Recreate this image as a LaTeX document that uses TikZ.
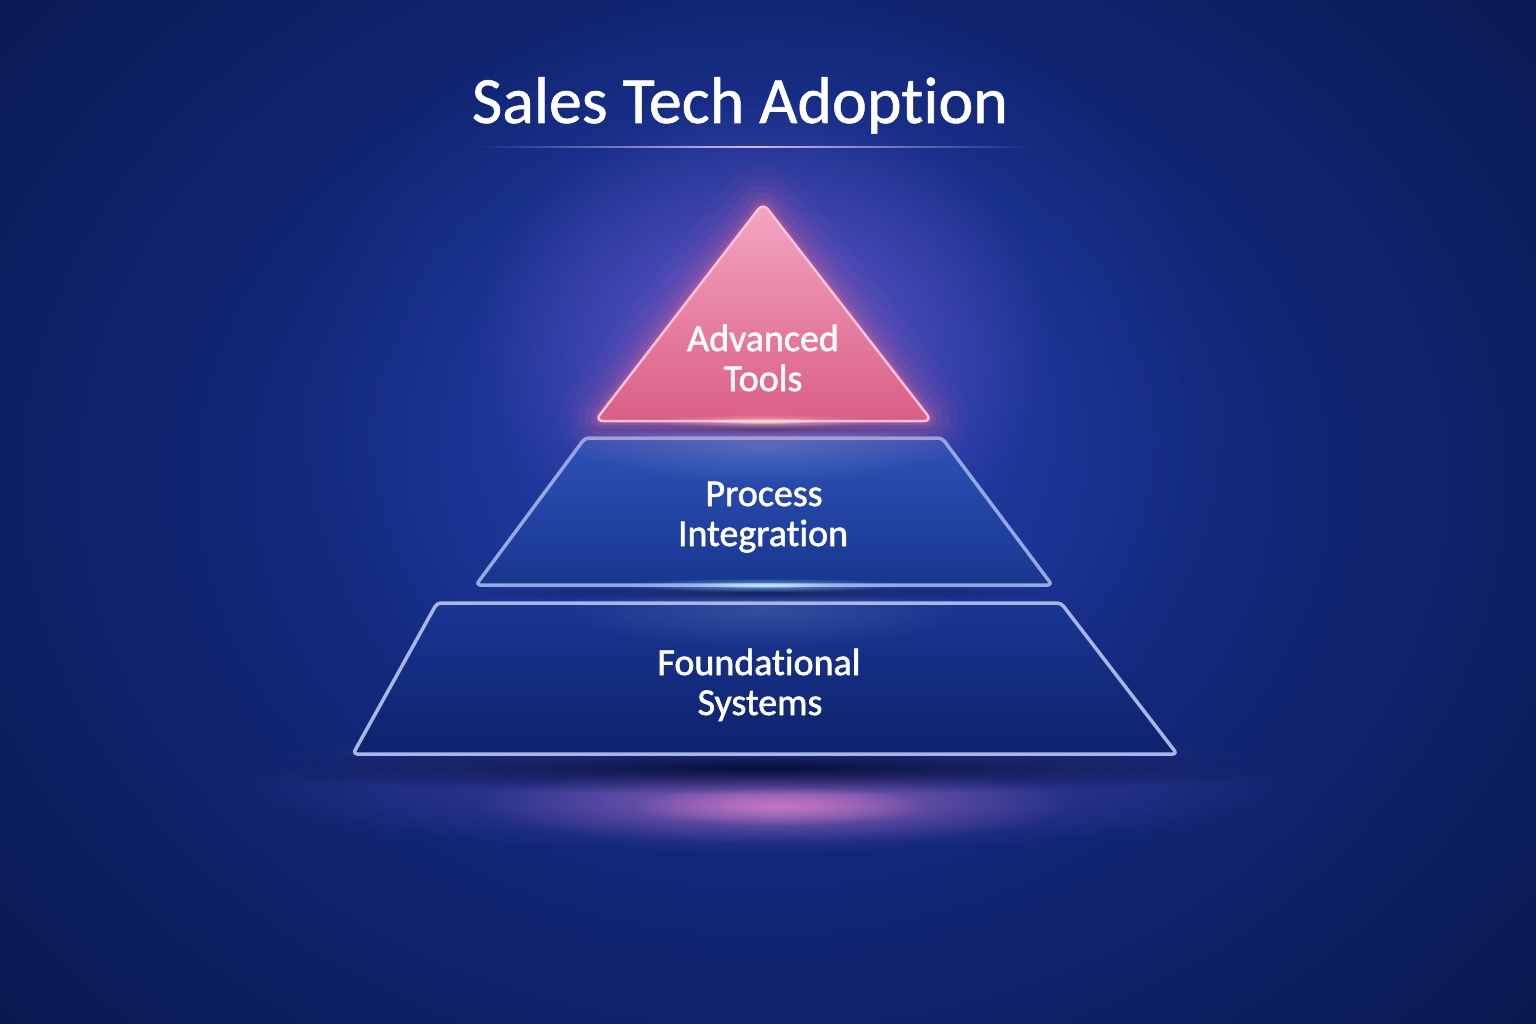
\documentclass[tikz,border=0pt]{standalone}
\usepackage{fontspec}
\setmainfont{Carlito}[Ligatures={NoCommon,NoRare}]
\newfontfamily\labelfont{Carlito}[Ligatures={NoCommon,NoRare},FakeBold=1.6]
\newfontfamily\titlefont{Carlito}[Ligatures={NoCommon,NoRare},FakeBold=0.9]
\usetikzlibrary{fadings}
\definecolor{bgdark}{HTML}{071340}
\definecolor{bgmid}{HTML}{18349C}
\definecolor{bgcore}{HTML}{2C44B0}
\definecolor{glowpurple}{HTML}{6E58CC}
\definecolor{glowpink}{HTML}{F06A9C}
\definecolor{tritop}{HTML}{F4A6C2}
\definecolor{tribot}{HTML}{DA5E86}
\definecolor{triedge}{HTML}{F9C2D6}
\definecolor{midtop}{HTML}{2D52B6}
\definecolor{midbot}{HTML}{193690}
\definecolor{midedge}{HTML}{94A8E2}
\definecolor{bottop}{HTML}{1A3693}
\definecolor{botbot}{HTML}{0E226C}
\definecolor{botedge}{HTML}{A8B7E6}
\definecolor{rulecol}{HTML}{C9BEEA}
\definecolor{shadowcol}{HTML}{040C34}
\definecolor{floorpink}{HTML}{D47CC6}
\definecolor{floorblue}{HTML}{6452BE}
\tikzfading[name=softfade, inner color=transparent!0, outer color=transparent!100]
\tikzfading[name=hfade, left color=transparent!100, right color=transparent!100, middle color=transparent!0]
\tikzset{
  titletext/.style={text=white, font=\titlefont\fontsize{66}{70}\selectfont, anchor=base},
  label/.style={text=white, font=\labelfont\fontsize{38}{40}\selectfont, anchor=base},
  trilabel/.style={label, text=white!94!pink},
  glowline/.style={draw=glowpink, line join=round, rounded corners=8pt},
}
\begin{document}
\begin{tikzpicture}[x=1pt,y=-1pt]
\useasboundingbox (0,0) rectangle (1536,1024);
\begin{scope}
\clip (0,0) rectangle (1536,1024);
% background
\fill[bgdark] (0,0) rectangle (1536,1024);
\shade[inner color=bgmid, outer color=bgdark] (763,480) ellipse (1250pt and 1000pt);
\fill[bgcore, path fading=softfade, opacity=0.85] (763,420) ellipse (480pt and 440pt);
% glow behind triangle
\fill[glowpurple, path fading=softfade, opacity=0.85] (763,340) ellipse (290pt and 240pt);
% floor glow
\fill[floorblue, path fading=softfade, opacity=0.6] (765,785) ellipse (540pt and 70pt);
\fill[floorpink, path fading=softfade, opacity=0.55] (775,805) ellipse (300pt and 40pt);
\fill[floorpink, path fading=softfade, opacity=0.8] (780,806) ellipse (150pt and 20pt);
% shadow below base
\fill[shadowcol, path fading=softfade, opacity=0.95] (765,768) ellipse (520pt and 26pt);
\end{scope}

% title
\node[titletext] (title) at (740,123) {Sales Tech Adoption};
\fill[rulecol, path fading=hfade] (475,146) rectangle (1030,148.5);

% bottom tier
\coordinate (b1) at (437,603);
\coordinate (b2) at (1061,603);
\coordinate (b3) at (1177,754);
\coordinate (b4) at (353,754);
\shade[top color=bottop, bottom color=botbot, rounded corners=4pt] (b1) -- (b2) -- (b3) -- (b4) -- cycle;
\fill[white, path fading=softfade, opacity=0.12] (763,610) ellipse (200pt and 40pt);
\draw[botedge, line width=3.5pt, rounded corners=4pt, line join=round] (b1) -- (b2) -- (b3) -- (b4) -- cycle;

% middle tier
\coordinate (m1) at (585,438);
\coordinate (m2) at (942,438);
\coordinate (m3) at (1052,585);
\coordinate (m4) at (476,585);
\fill[shadowcol, path fading=softfade, opacity=0.6] (763,593) ellipse (300pt and 9pt);
\shade[top color=midtop, bottom color=midbot, rounded corners=4pt] (m1) -- (m2) -- (m3) -- (m4) -- cycle;
\fill[white, path fading=softfade, opacity=0.15] (763,445) ellipse (180pt and 40pt);
\draw[midedge, line width=3.5pt, rounded corners=4pt, line join=round] (m1) -- (m2) -- (m3) -- (m4) -- cycle;
\fill[white, path fading=softfade, opacity=0.9] (763,585) ellipse (70pt and 3pt);
\fill[cyan!40!white, path fading=softfade, opacity=0.6] (763,585) ellipse (140pt and 7pt);

% top triangle
\coordinate (t1) at (763,203);
\coordinate (t2) at (932,421);
\coordinate (t3) at (595,421);
\fill[shadowcol, path fading=softfade, opacity=0.55] (763,428) ellipse (190pt and 8pt);
\foreach \w/\o in {80/0.04, 60/0.05, 42/0.07, 28/0.09, 16/0.13, 8/0.2}
  \draw[glowline, line width=\w pt, opacity=\o] (t1) -- (t2) -- (t3) -- cycle;
\shade[top color=tritop, bottom color=tribot, rounded corners=8pt] (t1) -- (t2) -- (t3) -- cycle;
\draw[triedge, line width=2.5pt, rounded corners=8pt, line join=round] (t1) -- (t2) -- (t3) -- cycle;
\fill[white, path fading=softfade, opacity=0.9] (763,421) ellipse (60pt and 3pt);
\fill[pink, path fading=softfade, opacity=0.6] (763,421) ellipse (110pt and 7pt);

% labels
\node[trilabel] (adv) at (763,351) {Advanced};
\node[trilabel] (tools) at (763,391) {Tools};
\node[label] (proc) at (764,506) {Process};
\node[label] (integ) at (763,546) {Integration};
\node[label] (found) at (759,675) {Foundational};
\node[label] (sys) at (760,715) {Systems};
\end{tikzpicture}
\end{document}
